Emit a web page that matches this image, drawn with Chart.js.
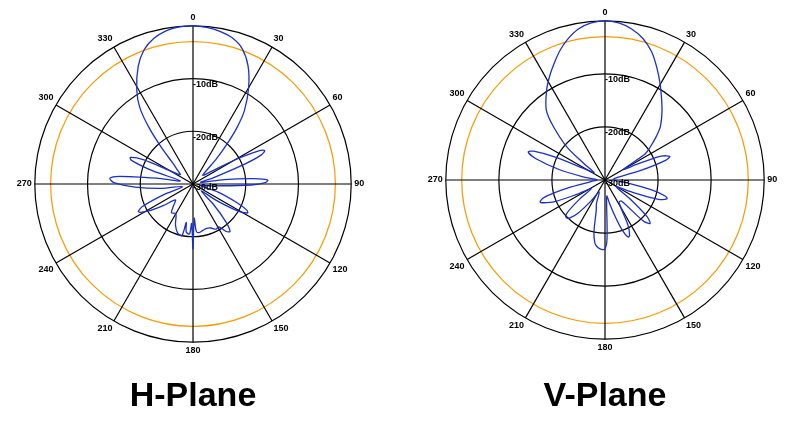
<!DOCTYPE html>
<html>
<head>
<meta charset="utf-8">
<script src="https://cdn.jsdelivr.net/npm/chart.js@4.4.1/dist/chart.umd.min.js"></script>
<style>
  body { margin: 0; background: #fff; }
  .wrap { display: flex; width: 800px; height: 429px; }
  canvas { display: block; }
</style>
</head>
<body>
<div class="wrap">
  <canvas id="hPlane" width="400" height="429"></canvas>
  <canvas id="vPlane" width="400" height="429"></canvas>
</div>
<script>
// angles in degrees (0 = up, clockwise), gain in dB
const hAngles = [0,5,10,15,20,25,30,35,38,40,43,48,55,60,63,65,67,69,73,78,82,85,87,89,91,95,102,108,113,116,118,121,125,130,135,139,142,145,149,153,158,163,168,173,176,178,180,182,184,188,190,192,197,203,210,217,222,228,234,239,243,246,250,256,262,267,271,274,276,279,284,288,291,293,296,300,306,312,316,319,322,325,329,335,340,345,350,355];
const hGain   = [0,-0.2,-0.6,-1.3,-2.7,-5.3,-8.9,-13,-16.5,-19.5,-23.5,-27.5,-26,-21,-16.5,-15,-16,-19.5,-26,-28.5,-24,-18.5,-15.8,-16.3,-19,-26,-28.5,-25,-21,-18.6,-18.3,-20,-24.5,-28,-24.5,-20.5,-18.6,-19,-20.5,-20.4,-21,-21.2,-21,-20.7,-21,-23.5,-17.7,-22.5,-20.5,-20.8,-22.6,-20,-20.2,-21.5,-23.5,-23.2,-24.5,-25.5,-23,-20,-18.4,-19.5,-24,-28,-24,-19,-15,-14.2,-16,-23,-27.5,-22,-17.5,-17.1,-19.5,-25,-27,-26,-24.5,-21,-16.5,-12.5,-9.3,-5.4,-2.9,-1.4,-0.5,-0.1];

const vAngles = [0,5,10,15,20,25,30,35,40,46,50,54,57,60,64,67,70,72,75,80,90,97,102,105,107,110,115,121,127,131,134,137,142,148,153,156,158,161,164,169,173,176,178,180,183,186,189,192,196,200,206,213,219,223,226,229,233,238,243,247,251,254,258,264,272,278,283,287,290,292,295,299,304,308,311,316,320,327,332,337,341,345,350,355];
const vGain   = [0,-0.3,-1.1,-2.4,-4.3,-6.8,-9.2,-11.4,-13.3,-15.5,-17.5,-19.5,-21,-26,-23,-18.5,-17,-18,-23,-28,-28.5,-26,-21,-18.2,-17.8,-19.5,-25,-27.5,-24,-19.5,-18.2,-19.5,-25,-25,-20.5,-18.6,-18.4,-20,-22.5,-25.5,-27,-25.6,-19,-17,-16.9,-17.2,-17.9,-20,-24,-25.3,-27.5,-25.5,-22,-20.2,-19.8,-20.5,-24,-27,-24,-19.5,-17.1,-18,-23,-27.5,-28.5,-26,-21,-16.5,-14.6,-15.5,-20,-26,-27.5,-24.8,-20.4,-16,-12.8,-9.8,-7.8,-5.8,-4.1,-2.6,-1.1,-0.3];

const ringLabels = [-30, -20, -10];
const refLevel = -3;

const BLUE = '#1a30c8';
const ORANGE = '#f79a00';
const FONT = '"Liberation Sans", Arial, sans-serif';

const degrees = Array.from({ length: 360 }, (_, i) => i);

function toSeries(angles, gains) {
  const out = new Array(360).fill(null);
  angles.forEach((a, i) => { out[a] = gains[i]; });
  return out;
}

const dbLabels = {
  id: 'dbLabels',
  afterDraw(chart) {
    const s = chart.scales.r;
    const ctx = chart.ctx;
    ctx.save();
    ctx.font = 'bold 9px ' + FONT;
    ctx.fillStyle = '#000';
    ctx.textAlign = 'left';
    ctx.textBaseline = 'middle';
    ringLabels.forEach(v => {
      const r = s.getDistanceFromCenterForValue(v);
      ctx.fillText(v + 'dB', s.xCenter, s.yCenter - r + (r ? 6 : 4));
    });
    ctx.restore();
  }
};

function makeChart(id, title, angles, gains, padding, titlePad) {
  return new Chart(document.getElementById(id), {
    type: 'radar',
    data: {
      labels: degrees,
      datasets: [{
        data: toSeries(angles, gains),
        borderColor: BLUE,
        borderWidth: 1.3,
        pointRadius: 0,
        fill: false,
        tension: 0.3,
        spanGaps: true
      }]
    },
    options: {
      responsive: false,
      animation: false,
      events: [],
      layout: { padding: padding },
      plugins: {
        legend: { display: false },
        tooltip: { enabled: false },
        title: {
          display: true,
          position: 'bottom',
          text: title,
          color: '#000',
          font: { family: FONT, size: 34, weight: 'bold' },
          padding: titlePad
        }
      },
      scales: {
        r: {
          min: -30,
          max: 0,
          ticks: { stepSize: 10, display: false },
          afterBuildTicks: s => { s.ticks.push({ value: refLevel }); },
          grid: {
            circular: true,
            color: c => (c.tick && c.tick.value === refLevel) ? ORANGE : '#000',
            lineWidth: 1.2
          },
          angleLines: {
            color: c => c.index % 30 === 0 ? '#000' : 'rgba(0,0,0,0)',
            lineWidth: c => c.index % 30 === 0 ? 1.2 : 0
          },
          pointLabels: {
            padding: 3,
            color: '#000',
            font: { family: FONT, size: 9, weight: 'bold' },
            callback: (label, i) => i % 30 === 0 ? String(label) : ''
          }
        }
      }
    },
    plugins: [dbLabels]
  });
}

makeChart('hPlane', 'H-Plane', hAngles, hGain, { top: 12, right: 14 }, { top: 20, bottom: 12 });
makeChart('vPlane', 'V-Plane', vAngles, vGain, { top: 7, left: 10 }, { top: 22, bottom: 12 });
</script>
</body>
</html>
